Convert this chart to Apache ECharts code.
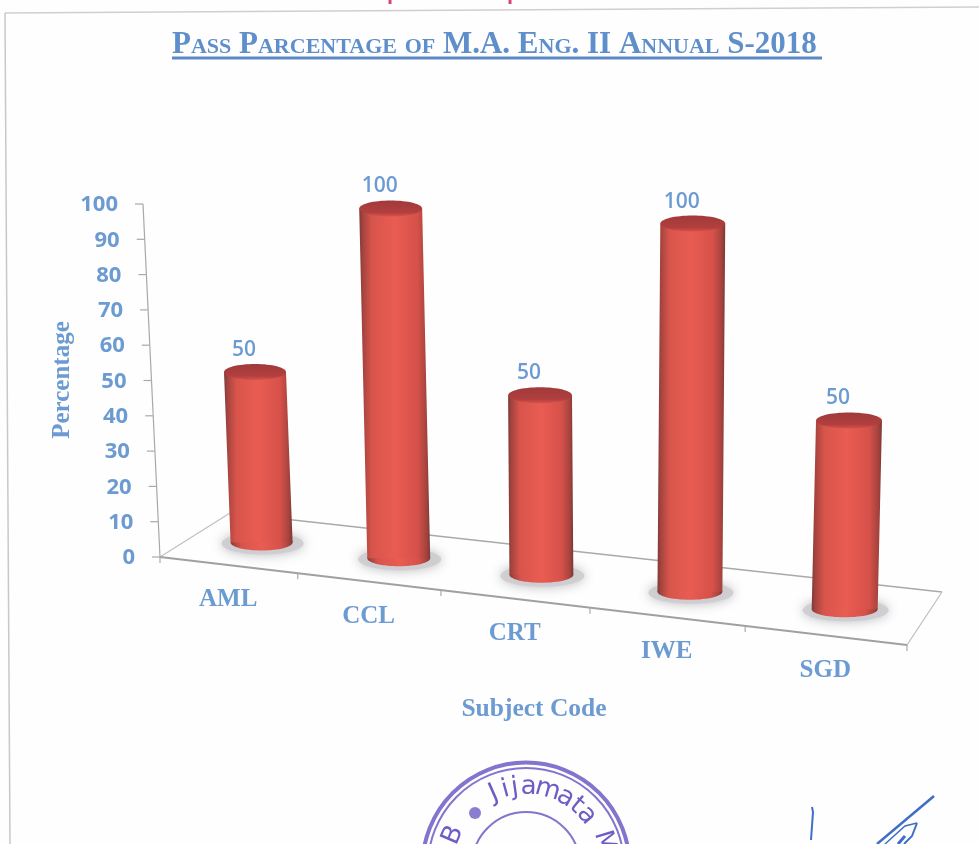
<!DOCTYPE html>
<html>
<head>
<meta charset="utf-8">
<title>Pass Parcentage of M.A. Eng. II Annual S-2018</title>
<style>
  html, body { margin: 0; padding: 0; background: #fff; }
  #chart { width: 979px; height: 844px; }
</style>
<script src="https://cdn.jsdelivr.net/npm/echarts@6/dist/echarts.min.js"></script>
</head>
<body>
<div id="chart"></div>
<script>
const categories = ['AML', 'CCL', 'CRT', 'IWE', 'SGD']
const passPercent = [50, 100, 50, 100, 50]
const yTicks = [0, 10, 20, 30, 40, 50, 60, 70, 80, 90, 100]
const chartTitle = 'Pass Parcentage of M.A. Eng. II Annual S-2018'
const yAxisTitle = 'Percentage'
const xAxisTitle = 'Subject Code'

const BLUE = '#6c9bd2'
const LINE = '#a9a9a9'
const serif = '"Liberation Serif", serif'
const sans = '"Open Sans", sans-serif'

const grid = { left: 160, top: 204, width: 747, height: 353 }
const gridBottom = grid.top + grid.height

// the original is an Excel 3D chart: the flat grid gets warped onto a tilted floor
const floorFront = [[160, 557], [907, 645]]
const floorBack = [[230, 513], [942, 592]]
const perspective = 0.106

const lerp = (a, b, k) => a + (b - a) * k
const leanAt = (x) => -17 + (x - 160) * 0.0375
const riseAt = (x) => 335 + (x - 160) * 0.0625

const floorPoint = (cx, depth) => {
  const t = (cx - grid.left) / grid.width
  const f = t / (1 + perspective * (1 - t))
  const fx = lerp(floorFront[0][0], floorFront[1][0], f)
  const fy = lerp(floorFront[0][1], floorFront[1][1], f)
  const bx = lerp(floorBack[0][0], floorBack[1][0], f)
  const by = lerp(floorBack[0][1], floorBack[1][1], f)
  return [lerp(fx, bx, depth), lerp(fy, by, depth)]
}

const project = (coord, depth) => {
  const base = floorPoint(coord[0], depth)
  const h = (gridBottom - coord[1]) / grid.height
  return [base[0] + leanAt(base[0]) * h, base[1] - riseAt(base[0]) * h]
}

const lineEl = (a, b, width, color) => ({
  type: 'line',
  shape: { x1: a[0], y1: a[1], x2: b[0], y2: b[1] },
  style: { stroke: color || LINE, lineWidth: width || 1.5 },
})

const textEl = (text, x, y, font, align) => ({
  type: 'text',
  x,
  y,
  style: { text, font, fill: BLUE, align: align || 'center', verticalAlign: 'middle' },
})

const cylinderFill = () => new echarts.graphic.LinearGradient(0, 0, 1, 0, [
  { offset: 0, color: '#7c3b3a' },
  { offset: 0.05, color: '#a5433e' },
  { offset: 0.18, color: '#d8554c' },
  { offset: 0.5, color: '#e95c52' },
  { offset: 0.82, color: '#d6514a' },
  { offset: 0.95, color: '#a5423d' },
  { offset: 1, color: '#763836' },
])

const renderFloor = (params, api) => {
  const start = api.coord([0, 0])[0] - api.size([1, 0])[0] / 2
  const end = api.coord([categories.length - 1, 0])[0] + api.size([1, 0])[0] / 2
  const fl = floorPoint(start, 0)
  const fr = floorPoint(end, 0)
  const bl = floorPoint(start, 1)
  const br = floorPoint(end, 1)
  return {
    type: 'group',
    children: [
      lineEl(bl, br, 1.5),
      lineEl(fl, bl, 1.2, '#c0c0c0'),
      lineEl(fr, br, 1.2, '#bdbdbd'),
      lineEl(fl, fr, 1.8, '#a0a0a0'),
      lineEl(fr, [fr[0], fr[1] + 6], 1.2),
    ],
  }
}

const renderYTick = (params, api) => {
  const coord = api.coord([0, api.value(0)])
  const h = (gridBottom - coord[1]) / grid.height
  const p = [grid.left + leanAt(grid.left) * h, coord[1]]
  const children = [
    lineEl([p[0] - 8, p[1]], p, 1.2),
    textEl(String(api.value(0)), p[0] - 25, p[1] + 1, '700 22px ' + sans, 'right'),
  ]
  if (params.dataIndex < yTicks.length - 1) {
    const nextH = (api.value(0) + 10) / 100
    children.push(lineEl(p, [grid.left + leanAt(grid.left) * nextH, gridBottom - grid.height * nextH], 1.2))
  }
  return { type: 'group', children }
}

const renderCategory = (params, api) => {
  const center = api.coord([api.value(0), 0])[0]
  const band = api.size([1, 0])[0]
  const tick = floorPoint(center - band / 2, 0)
  const mid = floorPoint(center, 0)
  return {
    type: 'group',
    children: [
      lineEl(tick, [tick[0], tick[1] + 6], 1.2),
      textEl(categories[api.value(0)], mid[0], mid[1] + 35, 'bold 25px ' + serif),
    ],
  }
}

const renderCylinder = (params, api) => {
  const idx = api.value(0)
  const value = api.value(1)
  const base = project(api.coord([idx, 0]), 0.5)
  const head = project(api.coord([idx, value]), 0.5)
  const r = 31 + (base[0] - 261) * 0.0034
  const ry = 8
  return {
    type: 'group',
    children: [
      {
        type: 'ellipse',
        shape: { cx: base[0] + 1, cy: base[1] + 1, rx: r + 10, ry: ry + 3 },
        style: { fill: 'rgba(205,205,210,0.9)', shadowBlur: 12, shadowColor: 'rgba(170,170,175,0.9)' },
      },
      {
        type: 'ellipse',
        shape: { cx: base[0], cy: base[1], rx: r, ry },
        style: { fill: cylinderFill() },
      },
      {
        type: 'polygon',
        shape: { points: [[head[0] - r, head[1]], [head[0] + r, head[1]], [base[0] + r, base[1]], [base[0] - r, base[1]]] },
        style: { fill: cylinderFill() },
      },
      {
        type: 'ellipse',
        shape: { cx: head[0], cy: head[1], rx: r, ry },
        style: {
          fill: new echarts.graphic.LinearGradient(0, 0, 0, 1, [
            { offset: 0, color: '#a03a3b' },
            { offset: 0.75, color: '#b23f3e' },
            { offset: 1, color: '#d5524a' },
          ]),
        },
      },
      textEl(String(value), head[0] - 11, head[1] - 22, '600 21px ' + sans),
    ],
  }
}

// scan leftovers around the plot: page frame, cut off heading, stamp and signature
const STAMP = '#6f5cc6'
const INK = '#3f6fc4'
const stampCx = 526
const stampCy = 866
const stampText = [
  ['B', -67, 79], ['J', -24, 79], ['i', -15, 79], ['j', -8, 79], ['a', 2, 79],
  ['m', 16, 79], ['a', 30, 79], ['t', 40, 79], ['a', 50, 79], ['M', 73, 82],
]
const stampRing = (r, lineWidth) => ({
  type: 'circle',
  shape: { cx: stampCx, cy: stampCy, r },
  style: { fill: 'none', stroke: STAMP, lineWidth, opacity: 0.85 },
})
const scanMarks = [
  { type: 'line', shape: { x1: 5, y1: 13, x2: 979, y2: 7 }, style: { stroke: '#cfcfcf', lineWidth: 1.5 } },
  { type: 'line', shape: { x1: 5, y1: 13, x2: 10, y2: 844 }, style: { stroke: '#c8c8c8', lineWidth: 1.5 } },
  { type: 'line', shape: { x1: 390, y1: 0, x2: 390, y2: 4 }, style: { stroke: '#d8476a', lineWidth: 3 } },
  { type: 'line', shape: { x1: 510, y1: 0, x2: 510, y2: 4 }, style: { stroke: '#d8476a', lineWidth: 3 } },
  { type: 'line', shape: { x1: 172, y1: 58, x2: 822, y2: 58 }, style: { stroke: '#5b88c6', lineWidth: 3 } },
  {
    type: 'text', x: 63, y: 380, rotation: Math.PI / 2,
    style: { text: yAxisTitle, font: 'bold 25px ' + serif, fill: BLUE, align: 'center', verticalAlign: 'middle' },
  },
  {
    type: 'text', x: 534, y: 709,
    style: { text: xAxisTitle, font: 'bold 25.5px ' + serif, fill: BLUE, align: 'center', verticalAlign: 'middle' },
  },
  stampRing(103.5, 4),
  stampRing(98, 2),
  stampRing(54, 2),
  { type: 'circle', shape: { cx: 475, cy: 813, r: 6 }, style: { fill: STAMP, opacity: 0.8 } },
  ...stampText.map(([ch, deg, r]) => {
    const a = deg * Math.PI / 180
    return {
      type: 'text',
      x: stampCx + Math.sin(a) * r,
      y: stampCy - Math.cos(a) * r,
      rotation: -a,
      style: { text: ch, font: '26px "DejaVu Sans", sans-serif', fill: STAMP, align: 'center', verticalAlign: 'middle' },
    }
  }),
  { type: 'polyline', shape: { points: [[812, 807], [813, 812], [811, 840]] }, style: { fill: 'none', stroke: INK, lineWidth: 2 } },
  { type: 'line', shape: { x1: 934, y1: 796, x2: 877, y2: 844 }, style: { stroke: INK, lineWidth: 2.5 } },
  { type: 'polyline', shape: { points: [[917, 823], [905, 826], [885, 844]] }, style: { fill: 'none', stroke: INK, lineWidth: 1.5 } },
  { type: 'polyline', shape: { points: [[917, 823], [912, 836], [904, 844]] }, style: { fill: 'none', stroke: INK, lineWidth: 2 } },
  { type: 'line', shape: { x1: 905, y1: 836, x2: 898, y2: 844 }, style: { stroke: INK, lineWidth: 3 } },
]

const chart = echarts.init(document.getElementById('chart'))
chart.setOption({
  animation: false,
  backgroundColor: '#fefefe',
  title: {
    text: chartTitle,
    left: 172,
    top: 29,
    padding: 0,
    textStyle: {
      fontFamily: serif,
      fontStyle: 'small-caps',
      fontWeight: 'bold',
      fontSize: 31,
      color: '#5f8fcb',
    },
  },
  grid: { ...grid, containLabel: false },
  xAxis: { type: 'category', data: categories, show: false },
  yAxis: { type: 'value', min: 0, max: 100, interval: 10, show: false },
  graphic: { elements: scanMarks },
  series: [
    { type: 'custom', name: 'floor', renderItem: renderFloor, data: [[0]], z: 1, silent: true, clip: false },
    { type: 'custom', name: 'yTicks', renderItem: renderYTick, data: yTicks.map((v) => [v]), encode: { y: 0 }, z: 1, silent: true, clip: false },
    { type: 'custom', name: 'categories', renderItem: renderCategory, data: categories.map((c, i) => [i]), encode: { x: 0 }, z: 1, silent: true, clip: false },
    {
      type: 'custom',
      name: 'Pass percentage',
      renderItem: renderCylinder,
      data: passPercent.map((v, i) => [i, v]),
      encode: { x: 0, y: 1 },
      z: 2,
      clip: false,
    },
  ],
})
</script>
</body>
</html>
